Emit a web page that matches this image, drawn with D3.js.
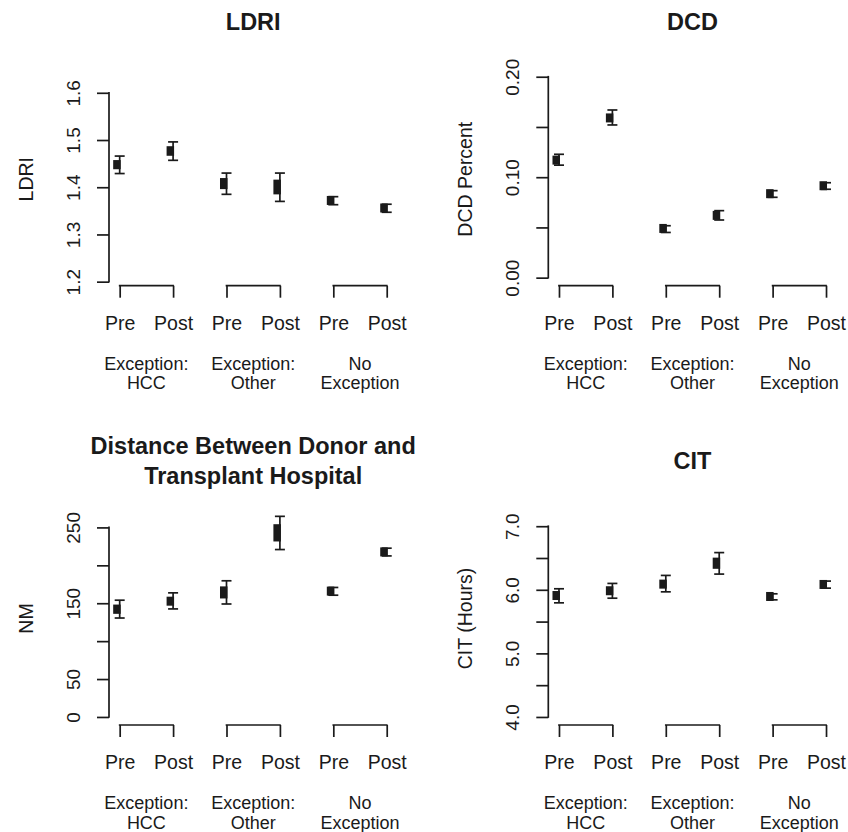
<!DOCTYPE html>
<html>
<head>
<meta charset="utf-8">
<script src="https://cdn.jsdelivr.net/npm/d3@7"></script>
<style>
  html, body { margin: 0; padding: 0; background: #fff; }
  svg { display: block; }
  text { font-family: "Liberation Sans", Arial, Helvetica, sans-serif; fill: #1a1a1a; }
</style>
</head>
<body>
<svg id="chart" width="848" height="832"></svg>
<script>
// ---------------- data ----------------
const categories = ["Pre", "Post", "Pre", "Post", "Pre", "Post"];
const groups = [["Exception:", "HCC"], ["Exception:", "Other"], ["No", "Exception"]];

const ldriMean = [1.448, 1.477, 1.408, 1.401, 1.372, 1.356];
const ldriLow  = [1.429, 1.457, 1.385, 1.370, 1.363, 1.347];
const ldriHigh = [1.466, 1.496, 1.430, 1.430, 1.380, 1.364];

const dcdMean = [0.117, 0.159, 0.049, 0.062, 0.0836, 0.0915];
const dcdLow  = [0.112, 0.152, 0.045, 0.0574, 0.080, 0.088];
const dcdHigh = [0.1228, 0.1669, 0.0517, 0.0667, 0.0866, 0.0945];

const nmMean = [142, 152.7, 164.2, 243, 166, 217.7];
const nmLow  = [130.5, 142.5, 149, 220.8, 160.6, 212.4];
const nmHigh = [154, 163.7, 179.6, 264.6, 170.8, 222.6];

const citMean = [5.91, 5.985, 6.089, 6.42, 5.895, 6.084];
const citLow  = [5.795, 5.868, 5.968, 6.247, 5.842, 6.026];
const citHigh = [6.016, 6.10, 6.226, 6.585, 5.937, 6.137];

const ldriTicks = [1.2, 1.3, 1.4, 1.5, 1.6];
const ldriTickLabels = ["1.2", "1.3", "1.4", "1.5", "1.6"];
const dcdTicks = [0, 0.05, 0.10, 0.15, 0.20];
const dcdTickLabels = ["0.00", "", "0.10", "", "0.20"];
const nmTicks = [0, 50, 100, 150, 200, 250];
const nmTickLabels = ["0", "50", "", "150", "", "250"];
const citTicks = [4, 4.5, 5, 5.5, 6, 6.5, 7];
const citTickLabels = ["4.0", "", "5.0", "", "6.0", "", "7.0"];

const ldriLim = [1.2085, 1.634];
const dcdLim = [0, 0.2];
const nmLim = [0, 265];
const citLim = [4, 7.16];

const titles = [["LDRI"], ["DCD"], ["Distance Between Donor and", "Transplant Hospital"], ["CIT"]];
const yTitles = ["LDRI", "DCD Percent", "NM", "CIT (Hours)"];

// ---------------- layout ----------------
const ink = "#1a1a1a";
const lw = 1.7;
const panels = [
  { left: 109,   top: 68.7, mean: ldriMean, low: ldriLow, high: ldriHigh, ticks: ldriTicks, labels: ldriTickLabels, lim: ldriLim, title: titles[0], titleY: [30.3], ytitle: yTitles[0] },
  { left: 548.3, top: 68.7, mean: dcdMean,  low: dcdLow,  high: dcdHigh,  ticks: dcdTicks,  labels: dcdTickLabels,  lim: dcdLim,  title: titles[1], titleY: [30.3], ytitle: yTitles[1] },
  { left: 109,   top: 508,  mean: nmMean,   low: nmLow,   high: nmHigh,   ticks: nmTicks,   labels: nmTickLabels,   lim: nmLim,   title: titles[2], titleY: [454.3, 483.6], ytitle: yTitles[2] },
  { left: 548.3, top: 508,  mean: citMean,  low: citLow,  high: citHigh,  ticks: citTicks,  labels: citTickLabels,  lim: citLim,  title: titles[3], titleY: [468.6], ytitle: yTitles[3] }
];
const W = 288.4, H = 217;

const svg = d3.select("#chart");

panels.forEach(p => {
  const g = svg.append("g");
  const bottom = p.top + H;
  const span = p.lim[1] - p.lim[0];
  const y = d3.scaleLinear()
    .domain([p.lim[0] - 0.04 * span, p.lim[1] + 0.04 * span])
    .range([bottom, p.top]);
  const x = d3.scaleLinear().domain([0.8, 6.2]).range([p.left, p.left + W]);

  // title
  p.title.forEach((t, i) => {
    g.append("text")
      .attr("x", p.left + W / 2)
      .attr("y", p.titleY[i])
      .attr("text-anchor", "middle")
      .style("font-size", "23.5px")
      .style("font-weight", "bold")
      .text(t);
  });

  // y axis
  const yAxis = d3.axisLeft(y)
    .tickValues(p.ticks)
    .tickSize(12)
    .tickSizeOuter(0)
    .tickFormat((d, i) => p.labels[i]);
  const ya = g.append("g").attr("transform", `translate(${p.left},0)`).call(yAxis);
  ya.select(".domain").remove();
  ya.selectAll(".tick line").attr("stroke", ink).attr("stroke-width", lw);
  ya.selectAll(".tick text")
    .attr("transform", "rotate(-90)")
    .attr("x", 0).attr("y", -29).attr("dy", 0)
    .attr("text-anchor", "middle")
    .style("font-size", "19px")
    .style("font-family", "'Liberation Sans', Arial, sans-serif")
    .attr("fill", ink);
  g.append("line")
    .attr("x1", p.left).attr("x2", p.left)
    .attr("y1", y(p.ticks[0])).attr("y2", y(p.ticks[p.ticks.length - 1]))
    .attr("stroke", ink).attr("stroke-width", lw).attr("stroke-linecap", "square");

  // y title
  const yc = p.top + H / 2 + 2;
  g.append("text")
    .attr("transform", `translate(${p.left - 76},${yc}) rotate(-90)`)
    .attr("text-anchor", "middle")
    .style("font-size", "19.5px")
    .text(p.ytitle);

  // bracket axes per group
  groups.forEach((grp, gi) => {
    const a = 2 * gi + 1, b = 2 * gi + 2;
    const xAxis = d3.axisBottom(x)
      .tickValues([a, b])
      .tickSize(12)
      .tickSizeOuter(0)
      .tickFormat(d => categories[d - 1]);
    const xa = g.append("g").attr("transform", `translate(0,${bottom})`).call(xAxis);
    xa.select(".domain").remove();
    xa.selectAll(".tick line").attr("stroke", ink).attr("stroke-width", lw);
    xa.selectAll(".tick text")
      .attr("y", 44.3).attr("dy", 0)
      .style("font-size", "19.5px")
      .style("font-family", "'Liberation Sans', Arial, sans-serif")
      .attr("fill", ink);
    g.append("line")
      .attr("x1", x(a)).attr("x2", x(b))
      .attr("y1", bottom).attr("y2", bottom)
      .attr("stroke", ink).attr("stroke-width", lw).attr("stroke-linecap", "square");

    const lbl = g.append("text")
      .attr("text-anchor", "middle")
      .style("font-size", "18px");
    grp.forEach((line, li) => {
      lbl.append("tspan")
        .attr("x", (x(a) + x(b)) / 2)
        .attr("y", bottom + 84 + li * 19.5)
        .text(line);
    });
  });

  // error bars + markers
  const idx = d3.range(6);
  const pts = g.append("g");
  idx.forEach(i => {
    const cx = x(i + 1);
    const yl = y(p.low[i]), yh = y(p.high[i]), ym = y(p.mean[i]);
    pts.append("line")
      .attr("x1", cx).attr("x2", cx).attr("y1", yl).attr("y2", yh)
      .attr("stroke", ink).attr("stroke-width", lw);
    [yl, yh].forEach(yy => {
      pts.append("line")
        .attr("x1", cx - 5).attr("x2", cx + 5).attr("y1", yy).attr("y2", yy)
        .attr("stroke", ink).attr("stroke-width", lw);
    });
    const inHi = y(p.mean[i] + (p.high[i] - p.mean[i]) * 0.52);
    const inLo = y(p.mean[i] - (p.mean[i] - p.low[i]) * 0.52);
    pts.append("rect")
      .attr("x", cx - 6.5).attr("width", 7.5)
      .attr("y", Math.min(inHi, ym - 4.5))
      .attr("height", Math.max(inLo, ym + 4.5) - Math.min(inHi, ym - 4.5))
      .attr("fill", ink);
  });
});
</script>
</body>
</html>
